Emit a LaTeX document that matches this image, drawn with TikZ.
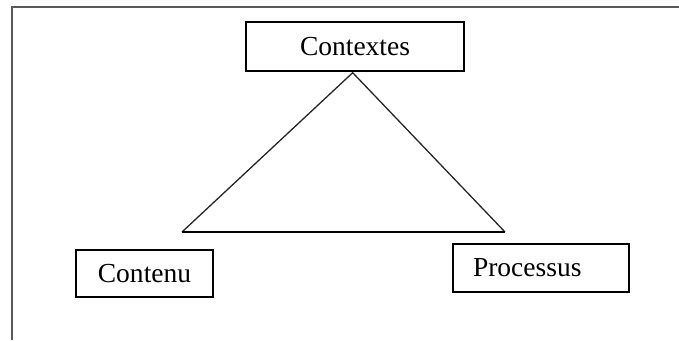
\documentclass[tikz,border=0pt]{standalone}
\usepackage{fontspec}
\setmainfont{Liberation Serif}
\begin{document}
\begin{tikzpicture}[x=1pt,y=-1pt,
  box/.style={draw=black, line width=1.6pt, rectangle, inner sep=0pt, font=\fontsize{27.5}{30}\selectfont},
  frameline/.style={draw=black!65, line width=1.6pt},
  tri/.style={draw=black!85, line width=1.3pt},
  base/.style={draw=black, line width=2.2pt}]
  \useasboundingbox (0,0) rectangle (679,340);
  % frame
  \coordinate (ftr) at (679,7);
  \coordinate (ftl) at (12,7);
  \coordinate (fbl) at (12,340);
  \draw[frameline] (ftr) -- (ftl) -- (fbl);
  % boxes
  \node[box, minimum width=218pt, minimum height=49pt] (ctx) at (355,46.5) {Contextes};
  \node[box, minimum width=137pt, minimum height=47pt] (cnt) at (144.5,273.5) {Contenu};
  \node[box, minimum height=48pt, text width=136pt, inner xsep=20pt, align=left] (proc) at (541,268) {Processus};
  % triangle
  \coordinate (apex) at (352.7,72.7);
  \coordinate (bl) at (182,232);
  \coordinate (br) at (505,232);
  \draw[tri] (bl) -- (apex) -- (br);
  \draw[base] (bl) -- (br);
\end{tikzpicture}
\end{document}
